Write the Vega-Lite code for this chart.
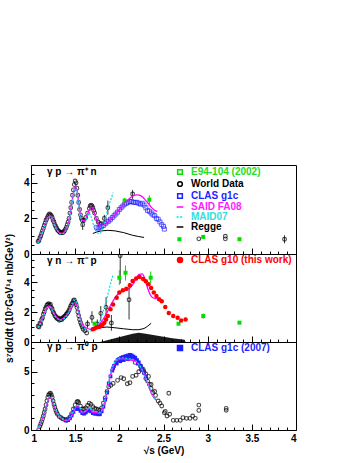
{
"$schema":"https://vega.github.io/schema/vega-lite/v6.json",
"padding":{"left":3,"top":164,"right":5,"bottom":5},
"spacing":0,
"bounds":"flush",
"config":{"view":{"stroke":"black","strokeWidth":1},"font":"Liberation Sans",
"title":{"font":"Liberation Sans","fontSize":10,"fontWeight":"bold","color":"black","anchor":"start","frame":"group","baseline":"alphabetic","dx":16},
"axis":{"labelFont":"Liberation Sans","labelFontWeight":"bold","labelFontSize":10,"labelColor":"black","titleFont":"Liberation Sans","titleFontWeight":"bold","titleFontSize":10,"titleColor":"black","tickColor":"black","domain":false,"grid":false}},
"datasets":{
"s1":[{"x":1.08,"y":0.65},{"x":1.1,"y":0.85},{"x":1.12,"y":1.1},{"x":1.14,"y":1.4},{"x":1.16,"y":1.7},{"x":1.18,"y":1.95},{"x":1.2,"y":2.1},{"x":1.22,"y":2.15},{"x":1.24,"y":2.0},{"x":1.26,"y":1.75},{"x":1.28,"y":1.5},{"x":1.3,"y":1.32},{"x":1.32,"y":1.2},{"x":1.35,"y":1.15},{"x":1.38,"y":1.25},{"x":1.41,"y":1.55},{"x":1.44,"y":2.2},{"x":1.46,"y":2.8},{"x":1.48,"y":3.4},{"x":1.5,"y":3.8},{"x":1.52,"y":3.6},{"x":1.54,"y":2.9},{"x":1.56,"y":2.2},{"x":1.58,"y":1.9},{"x":1.6,"y":1.85},{"x":1.63,"y":2.1},{"x":1.66,"y":2.5},{"x":1.68,"y":2.65},{"x":1.7,"y":2.55},{"x":1.72,"y":2.25},{"x":1.75,"y":1.85},{"x":1.78,"y":1.6},{"x":1.82,"y":1.6},{"x":1.86,"y":1.75},{"x":1.9,"y":1.95},{"x":1.95,"y":2.2},{"x":2.0,"y":2.5},{"x":2.05,"y":2.8},{"x":2.1,"y":3.05},{"x":2.15,"y":3.25},{"x":2.2,"y":3.32},{"x":2.25,"y":3.25},{"x":2.3,"y":3.0},{"x":2.35,"y":2.7},{"x":2.4,"y":2.45},{"x":2.43,"y":2.4}],
"m1":[{"x":1.08,"y":0.6},{"x":1.1,"y":0.8},{"x":1.12,"y":1.05},{"x":1.14,"y":1.35},{"x":1.16,"y":1.65},{"x":1.18,"y":1.9},{"x":1.2,"y":2.05},{"x":1.22,"y":2.1},{"x":1.24,"y":1.95},{"x":1.26,"y":1.7},{"x":1.28,"y":1.45},{"x":1.3,"y":1.3},{"x":1.32,"y":1.18},{"x":1.35,"y":1.12},{"x":1.38,"y":1.2},{"x":1.41,"y":1.5},{"x":1.44,"y":2.1},{"x":1.46,"y":2.7},{"x":1.48,"y":3.3},{"x":1.5,"y":3.7},{"x":1.52,"y":3.5},{"x":1.54,"y":2.8},{"x":1.56,"y":2.1},{"x":1.58,"y":1.75},{"x":1.6,"y":1.7},{"x":1.63,"y":2.0},{"x":1.66,"y":2.3},{"x":1.68,"y":2.1},{"x":1.7,"y":1.75},{"x":1.72,"y":1.45},{"x":1.75,"y":1.2},{"x":1.78,"y":1.15},{"x":1.81,"y":1.45},{"x":1.84,"y":1.95},{"x":1.87,"y":2.55},{"x":1.9,"y":3.0},{"x":1.93,"y":3.45}],
"r1":[{"x":1.7,"y":1.15},{"x":1.75,"y":1.25},{"x":1.8,"y":1.3},{"x":1.87,"y":1.33},{"x":1.95,"y":1.3},{"x":2.05,"y":1.2},{"x":2.15,"y":1.05},{"x":2.22,"y":0.98},{"x":2.28,"y":0.93}],
"w1":[{"x":1.08,"y":0.7},{"x":1.09,"y":0.75},{"x":1.1,"y":0.9},{"x":1.11,"y":1.0},{"x":1.12,"y":1.15},{"x":1.13,"y":1.3},{"x":1.14,"y":1.45},{"x":1.15,"y":1.6},{"x":1.16,"y":1.75},{"x":1.17,"y":1.9},{"x":1.18,"y":2.0},{"x":1.19,"y":2.1},{"x":1.2,"y":2.2},{"x":1.21,"y":2.25},{"x":1.22,"y":2.2},{"x":1.23,"y":2.15},{"x":1.24,"y":2.05},{"x":1.25,"y":1.9},{"x":1.26,"y":1.8},{"x":1.27,"y":1.65},{"x":1.28,"y":1.55},{"x":1.29,"y":1.45},{"x":1.3,"y":1.35},{"x":1.31,"y":1.3},{"x":1.32,"y":1.25},{"x":1.33,"y":1.2},{"x":1.34,"y":1.2},{"x":1.35,"y":1.2},{"x":1.36,"y":1.2},{"x":1.37,"y":1.25},{"x":1.38,"y":1.3},{"x":1.39,"y":1.4},{"x":1.4,"y":1.5},{"x":1.41,"y":1.65},{"x":1.42,"y":1.8},{"x":1.43,"y":2.0},{"x":1.44,"y":2.3},{"x":1.45,"y":2.6},{"x":1.46,"y":2.9},{"x":1.47,"y":3.3},{"x":1.48,"y":3.6},{"x":1.49,"y":3.9},{"x":1.5,"y":4.1},{"x":1.51,"y":4.0},{"x":1.52,"y":3.7},{"x":1.53,"y":3.3},{"x":1.54,"y":2.9},{"x":1.55,"y":2.5},{"x":1.56,"y":2.2},{"x":1.57,"y":2.0},{"x":1.58,"y":1.9},{"x":1.585,"y":1.65,"lo":1.35,"hi":1.95},{"x":1.59,"y":1.85},{"x":1.6,"y":1.9},{"x":1.62,"y":2.05},{"x":1.64,"y":2.3},{"x":1.66,"y":2.55},{"x":1.67,"y":2.7},{"x":1.68,"y":2.75},{"x":1.69,"y":2.7},{"x":1.7,"y":2.6},{"x":1.71,"y":2.45},{"x":1.72,"y":2.3},{"x":1.74,"y":2.0},{"x":1.76,"y":1.8},{"x":1.78,"y":1.7},{"x":1.8,"y":1.7},{"x":1.83,"y":2.0,"lo":1.8,"hi":2.2},{"x":1.87,"y":2.6,"lo":2.2,"hi":3.0},{"x":2.15,"y":3.37,"lo":3.1,"hi":3.6},{"x":2.9,"y":0.85},{"x":3.2,"y":1.0},{"x":3.2,"y":0.85},{"x":3.87,"y":0.83,"lo":0.6,"hi":1.05}],
"c1":[{"x":1.74,"y":1.5},{"x":1.76,"y":1.45},{"x":1.78,"y":1.5},{"x":1.8,"y":1.55},{"x":1.82,"y":1.6},{"x":1.84,"y":1.7},{"x":1.86,"y":1.8},{"x":1.88,"y":1.85},{"x":1.9,"y":1.95},{"x":1.92,"y":2.05},{"x":1.94,"y":2.15},{"x":1.96,"y":2.25},{"x":1.98,"y":2.35},{"x":2.0,"y":2.5},{"x":2.02,"y":2.6},{"x":2.04,"y":2.7},{"x":2.06,"y":2.8},{"x":2.08,"y":2.85},{"x":2.1,"y":2.9},{"x":2.12,"y":2.95},{"x":2.14,"y":2.95},{"x":2.16,"y":2.9},{"x":2.18,"y":2.9},{"x":2.2,"y":2.9},{"x":2.22,"y":2.85},{"x":2.24,"y":2.8},{"x":2.26,"y":2.85},{"x":2.28,"y":2.75},{"x":2.3,"y":2.6},{"x":2.32,"y":2.45},{"x":2.34,"y":2.4},{"x":2.36,"y":2.3},{"x":2.38,"y":2.2},{"x":2.4,"y":2.15},{"x":2.42,"y":2.0},{"x":2.44,"y":1.95},{"x":2.46,"y":1.8},{"x":2.48,"y":1.65},{"x":2.5,"y":1.55},{"x":2.51,"y":1.4}],
"e1":[{"x":2.06,"y":3.0,"lo":2.85,"hi":3.15},{"x":2.34,"y":3.05,"lo":2.8,"hi":3.3},{"x":2.68,"y":0.83},{"x":2.95,"y":0.96},{"x":3.36,"y":0.83}],
"s2":[{"x":1.08,"y":1.0},{"x":1.1,"y":1.2},{"x":1.12,"y":1.45},{"x":1.14,"y":1.75},{"x":1.16,"y":2.05},{"x":1.18,"y":2.3},{"x":1.2,"y":2.4},{"x":1.22,"y":2.35},{"x":1.24,"y":2.15},{"x":1.26,"y":1.9},{"x":1.28,"y":1.7},{"x":1.3,"y":1.6},{"x":1.33,"y":1.5},{"x":1.36,"y":1.55},{"x":1.39,"y":1.7},{"x":1.42,"y":1.9},{"x":1.45,"y":2.2},{"x":1.47,"y":2.45},{"x":1.49,"y":2.6},{"x":1.5,"y":2.62},{"x":1.52,"y":2.4},{"x":1.54,"y":1.95},{"x":1.56,"y":1.5},{"x":1.58,"y":1.2},{"x":1.61,"y":1.0},{"x":1.64,"y":0.9},{"x":1.67,"y":0.85},{"x":1.7,"y":0.9},{"x":1.73,"y":1.0},{"x":1.76,"y":1.1},{"x":1.79,"y":1.3},{"x":1.82,"y":1.55},{"x":1.85,"y":1.85},{"x":1.88,"y":2.2},{"x":1.91,"y":2.55},{"x":1.94,"y":2.85},{"x":1.97,"y":3.1},{"x":2.0,"y":3.25},{"x":2.04,"y":3.4},{"x":2.08,"y":3.45},{"x":2.12,"y":3.6},{"x":2.16,"y":3.9},{"x":2.19,"y":4.25},{"x":2.22,"y":4.5},{"x":2.26,"y":4.55},{"x":2.29,"y":4.2},{"x":2.32,"y":3.6},{"x":2.35,"y":3.15},{"x":2.38,"y":2.95},{"x":2.41,"y":2.9},{"x":2.43,"y":2.95}],
"m2":[{"x":1.08,"y":0.95},{"x":1.1,"y":1.15},{"x":1.12,"y":1.4},{"x":1.14,"y":1.7},{"x":1.16,"y":2.0},{"x":1.18,"y":2.25},{"x":1.2,"y":2.35},{"x":1.22,"y":2.3},{"x":1.24,"y":2.1},{"x":1.26,"y":1.85},{"x":1.28,"y":1.65},{"x":1.3,"y":1.55},{"x":1.33,"y":1.45},{"x":1.36,"y":1.5},{"x":1.39,"y":1.65},{"x":1.42,"y":1.9},{"x":1.45,"y":2.25},{"x":1.47,"y":2.55},{"x":1.49,"y":2.75},{"x":1.5,"y":2.8},{"x":1.52,"y":2.55},{"x":1.54,"y":2.0},{"x":1.56,"y":1.5},{"x":1.58,"y":1.15},{"x":1.61,"y":0.9},{"x":1.64,"y":0.75},{"x":1.67,"y":0.72},{"x":1.7,"y":0.8},{"x":1.73,"y":0.95},{"x":1.76,"y":1.2},{"x":1.79,"y":1.55},{"x":1.82,"y":2.1},{"x":1.85,"y":2.7},{"x":1.88,"y":3.4},{"x":1.91,"y":4.1},{"x":1.93,"y":4.5}],
"r2":[{"x":1.7,"y":0.9},{"x":1.78,"y":0.95},{"x":1.86,"y":1.0},{"x":1.95,"y":0.95},{"x":2.05,"y":0.88},{"x":2.15,"y":0.82},{"x":2.22,"y":0.82},{"x":2.28,"y":0.9},{"x":2.32,"y":1.05},{"x":2.36,"y":1.25}],
"band":[{"x":1.78,"y":0},{"x":1.85,"y":0.1},{"x":1.95,"y":0.25},{"x":2.05,"y":0.4},{"x":2.15,"y":0.55},{"x":2.22,"y":0.62},{"x":2.3,"y":0.55},{"x":2.4,"y":0.45},{"x":2.5,"y":0.35},{"x":2.6,"y":0.25},{"x":2.74,"y":0.15},{"x":2.75,"y":0}],
"w2":[{"x":1.08,"y":1.05},{"x":1.09,"y":1.0},{"x":1.1,"y":1.25},{"x":1.11,"y":1.2},{"x":1.12,"y":1.5},{"x":1.13,"y":1.6},{"x":1.14,"y":1.85},{"x":1.15,"y":2.0},{"x":1.16,"y":2.2},{"x":1.17,"y":2.3},{"x":1.18,"y":2.45},{"x":1.19,"y":2.5},{"x":1.2,"y":2.55},{"x":1.21,"y":2.45},{"x":1.22,"y":2.5},{"x":1.23,"y":2.3},{"x":1.24,"y":2.2},{"x":1.25,"y":2.0},{"x":1.26,"y":1.9},{"x":1.27,"y":1.75},{"x":1.28,"y":1.7},{"x":1.29,"y":1.6},{"x":1.3,"y":1.55},{"x":1.31,"y":1.6},{"x":1.32,"y":1.45},{"x":1.33,"y":1.5},{"x":1.34,"y":1.55},{"x":1.35,"y":1.5},{"x":1.36,"y":1.6},{"x":1.37,"y":1.65},{"x":1.38,"y":1.7},{"x":1.39,"y":1.75},{"x":1.4,"y":1.85},{"x":1.41,"y":1.9},{"x":1.42,"y":2.0},{"x":1.43,"y":2.1},{"x":1.44,"y":2.25},{"x":1.45,"y":2.4},{"x":1.46,"y":2.5},{"x":1.47,"y":2.6},{"x":1.48,"y":2.75},{"x":1.49,"y":2.8},{"x":1.5,"y":2.65},{"x":1.51,"y":2.5},{"x":1.52,"y":2.3},{"x":1.53,"y":2.0},{"x":1.54,"y":1.75},{"x":1.55,"y":1.5},{"x":1.56,"y":1.3},{"x":1.57,"y":1.15},{"x":1.58,"y":1.0},{"x":1.59,"y":0.85},{"x":1.61,"y":0.75},{"x":1.63,"y":0.6},{"x":1.64,"y":1.2,"lo":0.95,"hi":1.45},{"x":1.69,"y":1.64,"lo":1.25,"hi":2.05},{"x":1.75,"y":1.2,"lo":0.9,"hi":1.5},{"x":1.79,"y":1.91,"lo":1.4,"hi":2.4},{"x":1.85,"y":2.31,"lo":1.6,"hi":3.0},{"x":1.91,"y":1.27,"lo":0.75,"hi":1.8},{"x":2.01,"y":5.76,"lo":3.9,"hi":6.0},{"x":2.11,"y":2.82,"lo":1.5,"hi":3.9}],
"e2":[{"x":1.72,"y":1.22},{"x":2.0,"y":4.29,"lo":3.8,"hi":4.8},{"x":2.07,"y":4.62,"lo":4.1,"hi":5.1},{"x":2.355,"y":4.29,"lo":3.9,"hi":4.7},{"x":2.67,"y":1.22},{"x":2.95,"y":1.73,"lo":1.55,"hi":1.9},{"x":3.36,"y":1.29}],
"g10":[{"x":1.7,"y":0.85},{"x":1.72,"y":0.9},{"x":1.74,"y":0.96},{"x":1.77,"y":1.0},{"x":1.79,"y":1.07},{"x":1.81,"y":1.15},{"x":1.83,"y":1.29},{"x":1.85,"y":1.5},{"x":1.87,"y":1.73},{"x":1.9,"y":2.18},{"x":1.93,"y":2.5},{"x":1.97,"y":2.95},{"x":2.0,"y":3.3},{"x":2.04,"y":3.45},{"x":2.08,"y":3.55},{"x":2.12,"y":3.78},{"x":2.15,"y":4.07},{"x":2.19,"y":4.24},{"x":2.23,"y":4.33},{"x":2.27,"y":4.2},{"x":2.3,"y":4.05},{"x":2.33,"y":3.85},{"x":2.36,"y":3.6},{"x":2.39,"y":3.3},{"x":2.42,"y":3.07},{"x":2.45,"y":2.85},{"x":2.48,"y":2.72},{"x":2.52,"y":2.33},{"x":2.56,"y":1.93},{"x":2.61,"y":1.73},{"x":2.66,"y":1.62},{"x":2.7,"y":1.44},{"x":2.75,"y":1.5}],
"s3":[{"x":1.06,"y":0},{"x":1.1,"y":0.4},{"x":1.14,"y":1.2},{"x":1.18,"y":2.2},{"x":1.21,"y":2.8},{"x":1.23,"y":2.75},{"x":1.26,"y":2.1},{"x":1.3,"y":1.4},{"x":1.35,"y":0.95},{"x":1.4,"y":0.8},{"x":1.44,"y":0.95},{"x":1.48,"y":1.5},{"x":1.52,"y":2.0},{"x":1.55,"y":1.9},{"x":1.58,"y":1.45},{"x":1.62,"y":1.6},{"x":1.66,"y":1.85},{"x":1.7,"y":1.5},{"x":1.74,"y":1.5},{"x":1.78,"y":1.4},{"x":1.82,"y":2.0},{"x":1.86,"y":3.3},{"x":1.9,"y":4.7},{"x":1.94,"y":5.6},{"x":1.98,"y":6.0},{"x":2.03,"y":6.1},{"x":2.08,"y":6.05},{"x":2.13,"y":6.0},{"x":2.18,"y":5.9},{"x":2.22,"y":5.6},{"x":2.26,"y":5.1},{"x":2.3,"y":4.4},{"x":2.34,"y":3.6},{"x":2.38,"y":2.9},{"x":2.42,"y":2.55}],
"m3":[{"x":1.06,"y":0},{"x":1.1,"y":0.45},{"x":1.14,"y":1.25},{"x":1.18,"y":2.3},{"x":1.21,"y":2.9},{"x":1.23,"y":2.85},{"x":1.26,"y":2.2},{"x":1.3,"y":1.45},{"x":1.35,"y":1.0},{"x":1.4,"y":0.85},{"x":1.44,"y":1.0},{"x":1.48,"y":1.6},{"x":1.52,"y":2.15},{"x":1.55,"y":2.0},{"x":1.58,"y":1.55},{"x":1.62,"y":1.65},{"x":1.66,"y":1.9},{"x":1.7,"y":1.6},{"x":1.74,"y":1.6},{"x":1.78,"y":1.5},{"x":1.82,"y":2.1},{"x":1.86,"y":3.4},{"x":1.9,"y":4.8},{"x":1.94,"y":5.7},{"x":1.98,"y":6.1},{"x":2.03,"y":6.2},{"x":2.08,"y":6.15},{"x":2.13,"y":6.1},{"x":2.18,"y":5.95},{"x":2.22,"y":5.65},{"x":2.26,"y":5.15},{"x":2.3,"y":4.45},{"x":2.34,"y":3.65},{"x":2.38,"y":2.95},{"x":2.42,"y":2.6}],
"w3":[{"x":1.1,"y":0.3},{"x":1.11,"y":0.5},{"x":1.12,"y":0.7},{"x":1.13,"y":0.95},{"x":1.14,"y":1.2},{"x":1.15,"y":1.5},{"x":1.16,"y":1.8},{"x":1.17,"y":2.15},{"x":1.18,"y":2.5},{"x":1.19,"y":2.8},{"x":1.2,"y":3.0},{"x":1.21,"y":3.1},{"x":1.22,"y":3.15},{"x":1.23,"y":3.0},{"x":1.24,"y":2.8},{"x":1.25,"y":2.5},{"x":1.26,"y":2.2},{"x":1.27,"y":1.95},{"x":1.28,"y":1.7},{"x":1.29,"y":1.5},{"x":1.3,"y":1.35},{"x":1.32,"y":1.15},{"x":1.34,"y":1.05},{"x":1.36,"y":0.95},{"x":1.38,"y":0.9},{"x":1.4,"y":0.85},{"x":1.42,"y":0.95},{"x":1.44,"y":1.1},{"x":1.46,"y":1.4},{"x":1.48,"y":1.8},{"x":1.5,"y":2.15},{"x":1.52,"y":2.4},{"x":1.53,"y":2.45},{"x":1.54,"y":2.35},{"x":1.56,"y":2.05},{"x":1.58,"y":1.8},{"x":1.6,"y":1.8},{"x":1.62,"y":1.9},{"x":1.64,"y":2.1},{"x":1.66,"y":2.3},{"x":1.68,"y":2.2},{"x":1.7,"y":2.0},{"x":1.72,"y":1.85},{"x":1.74,"y":1.8},{"x":1.76,"y":1.75},{"x":1.78,"y":1.7},{"x":1.8,"y":1.9},{"x":1.82,"y":2.3},{"x":1.84,"y":2.75},{"x":1.86,"y":3.3},{"x":1.88,"y":3.7},{"x":1.905,"y":3.83},{"x":1.93,"y":4.0},{"x":1.98,"y":4.26},{"x":2.02,"y":4.5},{"x":2.05,"y":4.4},{"x":2.09,"y":3.97},{"x":2.12,"y":4.05},{"x":2.15,"y":4.6},{"x":2.19,"y":4.7},{"x":2.22,"y":5.0},{"x":2.25,"y":5.2},{"x":2.28,"y":5.0},{"x":2.3,"y":4.42},{"x":2.32,"y":4.2},{"x":2.34,"y":3.92},{"x":2.36,"y":3.56},{"x":2.38,"y":3.2},{"x":2.41,"y":2.97},{"x":2.44,"y":2.49},{"x":2.46,"y":2.3},{"x":2.48,"y":2.06},{"x":2.51,"y":1.48},{"x":2.52,"y":1.6},{"x":2.54,"y":1.2},{"x":2.57,"y":1.35},{"x":2.56,"y":3.15},{"x":2.61,"y":0.83},{"x":2.65,"y":0.83},{"x":2.69,"y":0.83},{"x":2.72,"y":1.06},{"x":2.76,"y":1.0},{"x":2.8,"y":1.0},{"x":2.83,"y":1.2},{"x":2.86,"y":1.0},{"x":2.9,"y":2.14},{"x":2.9,"y":1.68},{"x":3.21,"y":1.86},{"x":3.21,"y":1.69},{"x":2.1,"y":6.1},{"x":2.18,"y":5.8},{"x":2.24,"y":5.5},{"x":2.27,"y":5.2},{"x":2.3,"y":4.8},{"x":2.33,"y":4.6},{"x":2.36,"y":3.9},{"x":2.4,"y":3.3}],
"c3":[{"x":1.4,"y":0.8},{"x":1.42,"y":0.85},{"x":1.44,"y":1.0},{"x":1.46,"y":1.25},{"x":1.48,"y":1.55},{"x":1.5,"y":1.8},{"x":1.52,"y":1.9},{"x":1.54,"y":1.8},{"x":1.56,"y":1.65},{"x":1.58,"y":1.45},{"x":1.6,"y":1.4},{"x":1.62,"y":1.5},{"x":1.64,"y":1.65},{"x":1.66,"y":1.75},{"x":1.68,"y":1.6},{"x":1.7,"y":1.45},{"x":1.72,"y":1.4},{"x":1.74,"y":1.4},{"x":1.76,"y":1.35},{"x":1.78,"y":1.35},{"x":1.8,"y":1.6},{"x":1.82,"y":2.0},{"x":1.84,"y":2.6},{"x":1.86,"y":3.2},{"x":1.88,"y":4.0},{"x":1.9,"y":4.6},{"x":1.92,"y":5.1},{"x":1.94,"y":5.5},{"x":1.96,"y":5.8},{"x":1.98,"y":6.0},{"x":2.0,"y":6.1},{"x":2.02,"y":6.2},{"x":2.04,"y":6.25},{"x":2.06,"y":6.3},{"x":2.08,"y":6.35},{"x":2.1,"y":6.4},{"x":2.12,"y":6.45},{"x":2.14,"y":6.4},{"x":2.16,"y":6.3},{"x":2.18,"y":6.2},{"x":2.2,"y":6.0},{"x":2.22,"y":5.8},{"x":2.24,"y":5.5},{"x":2.26,"y":5.2},{"x":2.28,"y":4.9},{"x":2.3,"y":4.6},{"x":1.93,"y":5.3},{"x":1.97,"y":5.7},{"x":2.01,"y":5.9},{"x":2.05,"y":6.0},{"x":2.09,"y":6.1},{"x":2.13,"y":6.2},{"x":2.17,"y":6.1},{"x":2.21,"y":5.7},{"x":2.25,"y":5.3}]
},
"vconcat":[
{"width":265,"height":89,
"title":{"text":"γ p → π⁺ n","offset":-12},
"encoding":{
"x":{"field":"x","type":"quantitative","scale":{"domain":[1,4],"nice":false,"zero":false},"axis":{"title":null,"labels":false,"values":[1,1.1,1.2,1.3,1.4,1.5,1.6,1.7,1.8,1.9,2,2.1,2.2,2.3,2.4,2.5,2.6,2.7,2.8,2.9,3,3.1,3.2,3.3,3.4,3.5,3.6,3.7,3.8,3.9,4],"tickSize":{"condition":{"test":"round(datum.value*10) % 5 === 0","value":-6},"value":-3}}},
"y":{"field":"y","type":"quantitative","scale":{"domain":[0,5],"nice":false},"axis":{"title":null,"values":[0,0.5,1,1.5,2,2.5,3,3.5,4,4.5,5],"labelExpr":"round(datum.value*2) % 4 === 0 ? format(datum.value,'d') : ''","labelPadding":8,"tickSize":{"condition":{"test":"round(datum.value*2) % 4 === 0","value":-6},"value":-3}}}
},
"layer":[
{"data":{"name":"w1"},"transform":[{"filter":"isValid(datum.lo)"}],"mark":{"type":"rule","color":"black","strokeWidth":0.8,"clip":true},"encoding":{"y":{"field":"lo","type":"quantitative","scale":{"domain":[0,5],"nice":false},"axis":{"title":null,"values":[0,0.5,1,1.5,2,2.5,3,3.5,4,4.5,5],"labelExpr":"round(datum.value*2) % 4 === 0 ? format(datum.value,'d') : ''","labelPadding":8,"tickSize":{"condition":{"test":"round(datum.value*2) % 4 === 0","value":-6},"value":-3}}},"y2":{"field":"hi"}}},
{"data":{"name":"w1"},"mark":{"type":"point","shape":"circle","filled":false,"size":14,"strokeWidth":1.1,"clip":true},"encoding":{"color":{"datum":"World Data","type":"nominal","scale":{"domain":["E94-104 (2002)","World Data","CLAS g1c","SAID FA08","MAID07","Regge"],"range":["#00dd00","black","#1f1fff","#ff00ff","#00e0e0","black"]},"legend":{"orient":"none","legendX":144,"legendY":2,"title":null,"padding":0,"rowPadding":0,"labelFontSize":10,"labelFont":"Liberation Sans","labelFontWeight":"bold","labelOffset":6,"labelLimit":300,
"symbolType":{"expr":"datum.value==='E94-104 (2002)'||datum.value==='CLAS g1c'?'square':datum.value==='World Data'?'circle':'stroke'"},
"symbolStrokeColor":{"expr":"datum.value==='E94-104 (2002)'?'#00dd00':datum.value==='CLAS g1c'?'#1f1fff':datum.value==='SAID FA08'?'#ff00ff':datum.value==='MAID07'?'#00e0e0':'black'"},
"symbolDash":{"expr":"datum.value==='MAID07'?[2,1.5]:[]"},
"symbolSize":{"expr":"datum.value==='E94-104 (2002)'||datum.value==='CLAS g1c'||datum.value==='World Data'?22:45"},
"symbolStrokeWidth":1.5,
"symbolOpacity":1,
"labelColor":{"expr":"datum.value==='E94-104 (2002)'?'#22dd22':datum.value==='CLAS g1c'?'#1f1fff':datum.value==='SAID FA08'?'#ff22ff':datum.value==='MAID07'?'#33dddd':'black'"}}}}},
{"data":{"name":"c1"},"mark":{"type":"point","shape":"square","filled":false,"size":16,"strokeWidth":1,"color":"#1f1fff","clip":true}},
{"data":{"name":"e1"},"transform":[{"filter":"isValid(datum.lo)"}],"mark":{"type":"rule","color":"#00dd00","strokeWidth":1,"clip":true},"encoding":{"y":{"field":"lo","type":"quantitative","scale":{"domain":[0,5],"nice":false},"axis":{"title":null,"values":[0,0.5,1,1.5,2,2.5,3,3.5,4,4.5,5],"labelExpr":"round(datum.value*2) % 4 === 0 ? format(datum.value,'d') : ''","labelPadding":8,"tickSize":{"condition":{"test":"round(datum.value*2) % 4 === 0","value":-6},"value":-3}}},"y2":{"field":"hi"}}},
{"data":{"name":"e1"},"mark":{"type":"point","shape":"square","filled":true,"size":16,"opacity":1,"color":"#00dd00","clip":true}},
{"data":{"name":"r1"},"mark":{"type":"line","strokeWidth":1,"color":"black","clip":true}},
{"data":{"name":"s1"},"mark":{"type":"line","strokeWidth":1.3,"interpolate":"monotone","color":"#ff00ff","clip":true}},
{"data":{"name":"m1"},"mark":{"type":"line","strokeWidth":1.2,"strokeDash":[2,1.5],"interpolate":"monotone","color":"#00e0e0","clip":true}}
]},
{"width":265,"height":88,
"title":{"text":"γ n → π⁻ p","offset":-32},
"encoding":{
"x":{"field":"x","type":"quantitative","scale":{"domain":[1,4],"nice":false,"zero":false},"axis":{"title":null,"labels":false,"values":[1,1.1,1.2,1.3,1.4,1.5,1.6,1.7,1.8,1.9,2,2.1,2.2,2.3,2.4,2.5,2.6,2.7,2.8,2.9,3,3.1,3.2,3.3,3.4,3.5,3.6,3.7,3.8,3.9,4],"tickSize":{"condition":{"test":"round(datum.value*10) % 5 === 0","value":-6},"value":-3}}},
"y":{"field":"y","type":"quantitative","scale":{"domain":[0,5.87],"nice":false},"axis":{"title":"s⁷dσ/dt (10⁷GeV¹⁴ nb/GeV²)","titlePadding":9,"values":[0,0.5,1,1.5,2,2.5,3,3.5,4,4.5,5,5.5],"labelExpr":"round(datum.value*2) % 4 === 0 ? format(datum.value,'d') : ''","labelPadding":8,"tickSize":{"condition":{"test":"round(datum.value*2) % 4 === 0","value":-6},"value":-3}}}
},
"layer":[
{"data":{"name":"band"},"mark":{"type":"area","color":"black","opacity":0.9,"clip":true}},
{"data":{"name":"w2"},"transform":[{"filter":"isValid(datum.lo)"}],"mark":{"type":"rule","color":"black","strokeWidth":0.8,"clip":true},"encoding":{"y":{"field":"lo","type":"quantitative","scale":{"domain":[0,5.87],"nice":false},"axis":{"title":"s⁷dσ/dt (10⁷GeV¹⁴ nb/GeV²)","titlePadding":9,"values":[0,0.5,1,1.5,2,2.5,3,3.5,4,4.5,5,5.5],"labelExpr":"round(datum.value*2) % 4 === 0 ? format(datum.value,'d') : ''","labelPadding":8,"tickSize":{"condition":{"test":"round(datum.value*2) % 4 === 0","value":-6},"value":-3}}},"y2":{"field":"hi"}}},
{"data":{"name":"w2"},"mark":{"type":"point","shape":"circle","filled":false,"size":14,"strokeWidth":1.1,"color":"black","clip":true}},
{"data":{"name":"e2"},"transform":[{"filter":"isValid(datum.lo)"}],"mark":{"type":"rule","color":"#00dd00","strokeWidth":1,"clip":true},"encoding":{"y":{"field":"lo","type":"quantitative","scale":{"domain":[0,5.87],"nice":false},"axis":{"title":"s⁷dσ/dt (10⁷GeV¹⁴ nb/GeV²)","titlePadding":9,"values":[0,0.5,1,1.5,2,2.5,3,3.5,4,4.5,5,5.5],"labelExpr":"round(datum.value*2) % 4 === 0 ? format(datum.value,'d') : ''","labelPadding":8,"tickSize":{"condition":{"test":"round(datum.value*2) % 4 === 0","value":-6},"value":-3}}},"y2":{"field":"hi"}}},
{"data":{"name":"e2"},"mark":{"type":"point","shape":"square","filled":true,"size":16,"opacity":1,"color":"#00dd00","clip":true}},
{"data":{"name":"r2"},"mark":{"type":"line","strokeWidth":1,"color":"black","clip":true}},
{"data":{"name":"s2"},"mark":{"type":"line","strokeWidth":1.3,"interpolate":"monotone","color":"#ff00ff","clip":true}},
{"data":{"name":"m2"},"mark":{"type":"line","strokeWidth":1.2,"strokeDash":[2,1.5],"interpolate":"monotone","color":"#00e0e0","clip":true}},
{"data":{"name":"g10"},"mark":{"type":"point","shape":"circle","filled":true,"size":20,"opacity":1,"clip":true},"encoding":{"color":{"datum":"CLAS g10 (this work)","type":"nominal","scale":{"domain":["CLAS g10 (this work)"],"range":["#ff0000"]},"legend":{"orient":"none","legendX":144,"legendY":1,"title":null,"padding":0,"labelFontSize":10,"labelFont":"Liberation Sans","labelFontWeight":"bold","labelOffset":6,"symbolSize":25,"symbolType":"circle","symbolFillColor":"#ff0000","symbolStrokeColor":"#ff0000","symbolOpacity":1,"labelColor":"#ff0000","labelLimit":300}}}}
]},
{"width":265,"height":88,
"title":{"text":"γ p → π⁰ p","offset":-10.3},
"encoding":{
"x":{"field":"x","type":"quantitative","scale":{"domain":[1,4],"nice":false,"zero":false},"axis":{"title":"√s (GeV)","titlePadding":2,"values":[1,1.1,1.2,1.3,1.4,1.5,1.6,1.7,1.8,1.9,2,2.1,2.2,2.3,2.4,2.5,2.6,2.7,2.8,2.9,3,3.1,3.2,3.3,3.4,3.5,3.6,3.7,3.8,3.9,4],"labelExpr":"round(datum.value*10) % 5 === 0 ? format(datum.value,'~g') : ''","labelPadding":9,"tickSize":{"condition":{"test":"round(datum.value*10) % 5 === 0","value":-6},"value":-3}}},
"y":{"field":"y","type":"quantitative","scale":{"domain":[0,7.55],"nice":false},"axis":{"title":null,"values":[0,1,2,3,4,5,6,7],"labelExpr":"datum.value % 5 === 0 ? format(datum.value,'d') : ''","labelPadding":8,"tickSize":{"condition":{"test":"datum.value % 5 === 0","value":-6},"value":-3}}}
},
"layer":[
{"data":{"name":"w3"},"mark":{"type":"point","shape":"circle","filled":false,"size":14,"strokeWidth":1.1,"color":"black","clip":true}},
{"data":{"name":"c3"},"mark":{"type":"point","shape":"square","filled":true,"size":14,"opacity":1,"clip":true},"encoding":{"color":{"datum":"CLAS g1c (2007)","type":"nominal","scale":{"domain":["CLAS g1c (2007)"],"range":["#1f1fff"]},"legend":{"orient":"none","legendX":144,"legendY":1,"title":null,"padding":0,"labelFontSize":10,"labelFont":"Liberation Sans","labelFontWeight":"bold","labelOffset":6,"symbolSize":25,"symbolType":"square","symbolFillColor":"#1f1fff","symbolStrokeColor":"#1f1fff","symbolOpacity":1,"labelColor":"#1f1fff","labelLimit":300}}}},
{"data":{"name":"s3"},"mark":{"type":"line","strokeWidth":1.3,"interpolate":"monotone","color":"#ff00ff","clip":true}},
{"data":{"name":"m3"},"mark":{"type":"line","strokeWidth":1.2,"strokeDash":[2,1.5],"interpolate":"monotone","color":"#00e0e0","clip":true}}
]}
],
"resolve":{"scale":{"color":"independent","y":"independent"},"legend":{"color":"independent"}}
}
